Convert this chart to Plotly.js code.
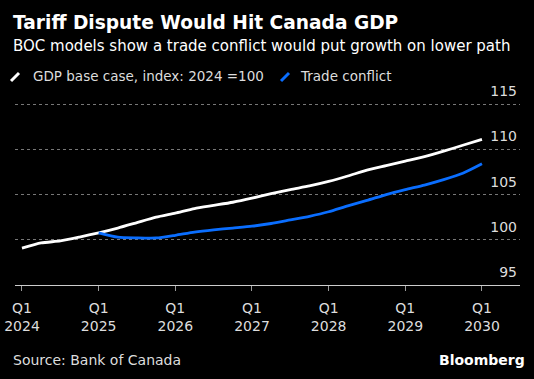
<!DOCTYPE html>
<html>
<head>
<meta charset="utf-8">
<script src="https://cdn.plot.ly/plotly-3.0.1.min.js"></script>
<style>
html,body{margin:0;padding:0;background:#000;}
#chart{width:534px;height:379px;}
</style>
</head>
<body>
<div id="chart"></div>
<script>
// Quarters (year, quarter)
const baseQuarters = ["2024Q1","2024Q2","2024Q3","2024Q4","2025Q1","2025Q2","2025Q3","2025Q4",
  "2026Q1","2026Q2","2026Q3","2026Q4","2027Q1","2027Q2","2027Q3","2027Q4",
  "2028Q1","2028Q2","2028Q3","2028Q4","2029Q1","2029Q2","2029Q3","2029Q4","2030Q1"];
const baseValues = [99.08,99.65,99.88,100.3,100.77,101.3,101.9,102.5,
  102.95,103.45,103.8,104.15,104.6,105.1,105.55,105.95,
  106.45,107.05,107.7,108.2,108.7,109.2,109.8,110.45,111.1];
const conflictQuarters = ["2025Q1","2025Q2","2025Q3","2025Q4",
  "2026Q1","2026Q2","2026Q3","2026Q4","2027Q1","2027Q2","2027Q3","2027Q4",
  "2028Q1","2028Q2","2028Q3","2028Q4","2029Q1","2029Q2","2029Q3","2029Q4","2030Q1"];
const conflictValues = [100.77,100.29,100.21,100.2,
  100.5,100.85,101.1,101.3,101.5,101.8,102.2,102.6,
  103.1,103.75,104.35,105.0,105.55,106.05,106.65,107.35,108.4];
const xTickVals = [2024,2025,2026,2027,2028,2029,2030];
const xTickText = ["Q1<br>2024","Q1<br>2025","Q1<br>2026","Q1<br>2027","Q1<br>2028","Q1<br>2029","Q1<br>2030"];
const yTickVals = [95,100,105,110,115];
const seriesNames = ["GDP base case, index: 2024 =100","Trade conflict"];

function qToNum(q){ const y=+q.slice(0,4); const n=+q.slice(5); return y+(n-1)/4; }

const WHITE="#ffffff", BLUE="#0a6eff";
const font = "Tahoma, 'DejaVu Sans', sans-serif";

const traces = [
  {x: baseQuarters.map(qToNum), y: baseValues, type:"scatter", mode:"lines",
   name: seriesNames[0], line:{color:WHITE,width:2.8,shape:"spline",smoothing:0.6}},
  {x: conflictQuarters.map(qToNum), y: conflictValues, type:"scatter", mode:"lines",
   name: seriesNames[1], line:{color:BLUE,width:2.8,shape:"spline",smoothing:0.6}}
];

const layout = {
  width:534, height:379,
  paper_bgcolor:"#000", plot_bgcolor:"#000",
  margin:{l:15,r:14,t:77,b:94},
  showlegend:false,
  font:{family:font,color:"#dddddd",size:14},
  xaxis:{range:[2023.909,2030.496], tickvals:xTickVals, ticktext:xTickText,
    showgrid:false, zeroline:false, showline:true, linecolor:"#cccccc", linewidth:1,
    ticks:"outside", ticklen:5, tickcolor:"#999999", tickwidth:1, ticklabelstandoff:5,
    tickfont:{family:font,size:14,color:"#dddddd"}, fixedrange:true},
  yaxis:{range:[95,118], side:"right", tickvals:yTickVals, ticklabelposition:"inside top",
    ticklabelshift:-3,
    showgrid:true, gridcolor:"#777777", griddash:"dot", gridwidth:1, zeroline:false,
    showline:false, ticks:"", tickfont:{family:font,size:14,color:"#dddddd"}, fixedrange:true},
  annotations:[
    {text:"<b>Tariff Dispute Would Hit Canada GDP</b>", xref:"paper", yref:"paper", x:-0.008, y:1.0, xanchor:"left", yanchor:"middle",
     yshift:55, showarrow:false, font:{family:font,size:18.6,color:"#ffffff"}},
    {text:"BOC models show a trade conflict would put growth on lower path", xref:"paper", yref:"paper", x:-0.008, y:1.0, xanchor:"left", yanchor:"middle",
     yshift:31, showarrow:false, font:{family:font,size:15,color:"#ffffff"}},
    {text:seriesNames[0], xref:"paper", yref:"paper", x:0.031, y:1.0, xanchor:"left", yanchor:"middle",
     yshift:1, showarrow:false, font:{family:font,size:13.5,color:"#dddddd"}},
    {text:seriesNames[1], xref:"paper", yref:"paper", x:0.56, y:1.0, xanchor:"left", yanchor:"middle",
     yshift:1, showarrow:false, font:{family:font,size:13.5,color:"#dddddd"}},
    {text:"Source: Bank of Canada", xref:"paper", yref:"paper", x:-0.008, y:0, xanchor:"left", yanchor:"middle",
     yshift:-75, showarrow:false, font:{family:font,size:14,color:"#dddddd"}},
    {text:"<b>Bloomberg</b>", xref:"paper", yref:"paper", x:1.014, y:0, xanchor:"right", yanchor:"middle",
     yshift:-75, showarrow:false, font:{family:font,size:14,color:"#ffffff"}}
  ],
  shapes:[
    {type:"line", xref:"paper", yref:"paper", xsizemode:"pixel", ysizemode:"pixel", xanchor:0, yanchor:1,
     x0:-4, x1:4, y0:-4, y1:4, line:{color:WHITE,width:3}},
    {type:"line", xref:"paper", yref:"paper", xsizemode:"pixel", ysizemode:"pixel", xanchor:0, yanchor:1,
     x0:266, x1:274, y0:-4, y1:4, line:{color:BLUE,width:3}}
  ]
};

Plotly.newPlot("chart", traces, layout, {displayModeBar:false, staticPlot:true});
</script>
</body>
</html>
